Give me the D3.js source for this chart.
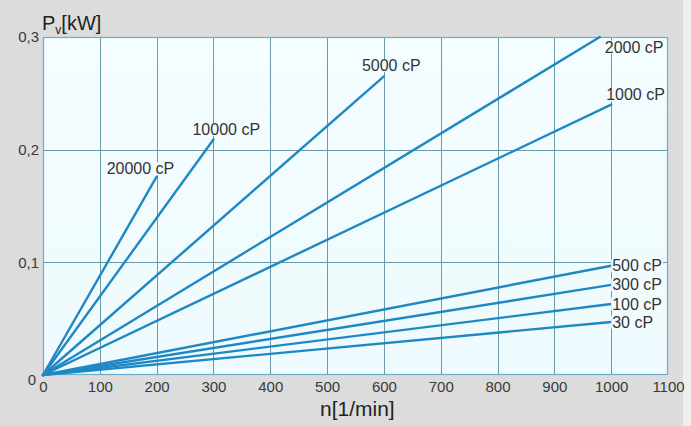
<!DOCTYPE html>
<html>
<head>
<meta charset="utf-8">
<script src="https://cdn.jsdelivr.net/npm/d3@7"></script>
<style>
  html, body { margin: 0; padding: 0; background: #dcdcdc; }
  svg { display: block; }
</style>
</head>
<body>
<svg id="chart" width="691" height="426"></svg>
<script>
// Power loss P_v against speed n for oils of different viscosity
const viscosityLabels = ["20000 cP", "10000 cP", "5000 cP", "2000 cP", "1000 cP", "500 cP", "300 cP", "100 cP", "30 cP"];
const endSpeed = [200, 300, 600, 980, 1000, 1000, 1000, 1000, 1000];
const endPower = [0.176, 0.209, 0.265, 0.3, 0.24, 0.097, 0.080, 0.063, 0.047];

const xTicks = [0, 100, 200, 300, 400, 500, 600, 700, 800, 900, 1000, 1100];
const yTicks = [0, 0.1, 0.2, 0.3];
const yTickLabels = ["0", "0,1", "0,2", "0,3"];

const W = 691, H = 426;
const plot = { left: 43, top: 37, right: 668, bottom: 375 };

const svg = d3.select("#chart");

svg.append("rect").attr("x", 0).attr("y", 0).attr("width", W).attr("height", H).attr("fill", "#dcdcdc");
svg.append("rect").attr("x", 683).attr("y", 0).attr("width", W - 683).attr("height", H).attr("fill", "#efefef");

const x = d3.scaleLinear().domain([0, 1100]).range([plot.left, plot.right]);
const y = d3.scaleLinear().domain([0, 0.3]).range([plot.bottom, plot.top]);

// plot background
const defs = svg.append("defs");
const grad = defs.append("linearGradient").attr("id", "bg").attr("x1", 0).attr("y1", 0).attr("x2", 0).attr("y2", 1);
grad.append("stop").attr("offset", "0%").attr("stop-color", "#f4fdff");
grad.append("stop").attr("offset", "100%").attr("stop-color", "#eefafd");

svg.append("rect")
  .attr("x", plot.left).attr("y", plot.top)
  .attr("width", plot.right - plot.left).attr("height", plot.bottom - plot.top)
  .attr("fill", "url(#bg)");

// grid
const grid = svg.append("g");
grid.selectAll("line.vx")
  .data(xTicks.filter(d => d > 0 && d < 1100))
  .join("line")
  .attr("x1", d => Math.round(x(d)) + 0.5).attr("x2", d => Math.round(x(d)) + 0.5)
  .attr("y1", plot.top).attr("y2", plot.bottom)
  .attr("stroke", "#6b9ba8").attr("stroke-width", 1);
grid.selectAll("line.hy")
  .data(yTicks.filter(d => d > 0 && d < 0.3))
  .join("line")
  .attr("x1", plot.left).attr("x2", plot.right)
  .attr("y1", d => Math.round(y(d)) + 0.5).attr("y2", d => Math.round(y(d)) + 0.5)
  .attr("stroke", "#6b9ba8").attr("stroke-width", 1);

// frame
svg.append("rect")
  .attr("x", plot.left + 0.5).attr("y", plot.top + 0.5)
  .attr("width", plot.right - plot.left - 1).attr("height", plot.bottom - plot.top - 1)
  .attr("fill", "none").attr("stroke", "#6aaecb").attr("stroke-width", 1.2);

// axes (tick labels only)
const font = "Liberation Sans, Arial, sans-serif";
const xAxis = d3.axisBottom(x).tickValues(xTicks).tickFormat(d3.format("d")).tickSize(0).tickPadding(0);
const gx = svg.append("g").attr("transform", `translate(0,${plot.bottom + 6})`).call(xAxis);
gx.select(".domain").remove();
gx.selectAll("text").attr("font-family", font).attr("font-size", 15).attr("fill", "#3a3a3a");

const yAxis = d3.axisLeft(y).tickValues(yTicks).tickFormat((d, i) => yTickLabels[i]).tickSize(0).tickPadding(0);
const gy = svg.append("g").attr("transform", `translate(${plot.left - 4},0)`).call(yAxis);
gy.select(".domain").remove();
gy.selectAll("text").attr("font-family", font).attr("font-size", 15).attr("fill", "#3a3a3a");
gy.selectAll(".tick").filter(d => d === 0).select("text").attr("dy", "0.6em").attr("x", -3);

// axis titles
const yTitle = svg.append("text").attr("x", plot.left - 1).attr("y", 30)
  .attr("font-family", font).attr("font-size", 20).attr("fill", "#222");
yTitle.append("tspan").text("P");
yTitle.append("tspan").attr("font-size", 12).attr("dy", 4).text("v");
yTitle.append("tspan").attr("dy", -4).text("[kW]");

svg.append("text").attr("x", 320).attr("y", 416)
  .attr("font-family", font).attr("font-size", 21).attr("fill", "#222")
  .text("n[1/min]");

// curves
const series = viscosityLabels.map((label, i) => ({ label, n: endSpeed[i], p: endPower[i] }));
svg.append("g").selectAll("line")
  .data(series)
  .join("line")
  .attr("x1", x(0)).attr("y1", y(0))
  .attr("x2", d => x(d.n)).attr("y2", d => y(d.p))
  .attr("stroke", "#1f88c4").attr("stroke-width", 2.4).attr("stroke-linecap", "round");

// labels with a small background plate so the grid doesn't run through them
const labelPos = {
  "20000 cP": { dx: -50, dy: -8 },
  "10000 cP": { dx: -21, dy: -10 },
  "5000 cP": { dx: -22, dy: -11 },
  "2000 cP": { dx: 5, dy: 10 },
  "1000 cP": { dx: -5, dy: -10 },
  "500 cP": { dx: 1, dy: 0 },
  "300 cP": { dx: 1, dy: 0 },
  "100 cP": { dx: 1, dy: 0 },
  "30 cP": { dx: 1, dy: 0 }
};

const lg = svg.append("g");
series.forEach(d => {
  const p = labelPos[d.label];
  const tx = x(d.n) + p.dx, ty = y(d.p) + p.dy;
  const g = lg.append("g");
  const t = g.append("text").attr("x", tx).attr("y", ty).attr("dy", "0.35em")
    .attr("font-family", font).attr("font-size", 16).attr("fill", "#333").text(d.label);
  const bb = t.node().getBBox();
  g.insert("rect", "text").attr("x", bb.x - 1).attr("y", bb.y + 2).attr("width", bb.width + 2).attr("height", bb.height - 4)
    .attr("fill", "#f2fcfe");
});
</script>
</body>
</html>
